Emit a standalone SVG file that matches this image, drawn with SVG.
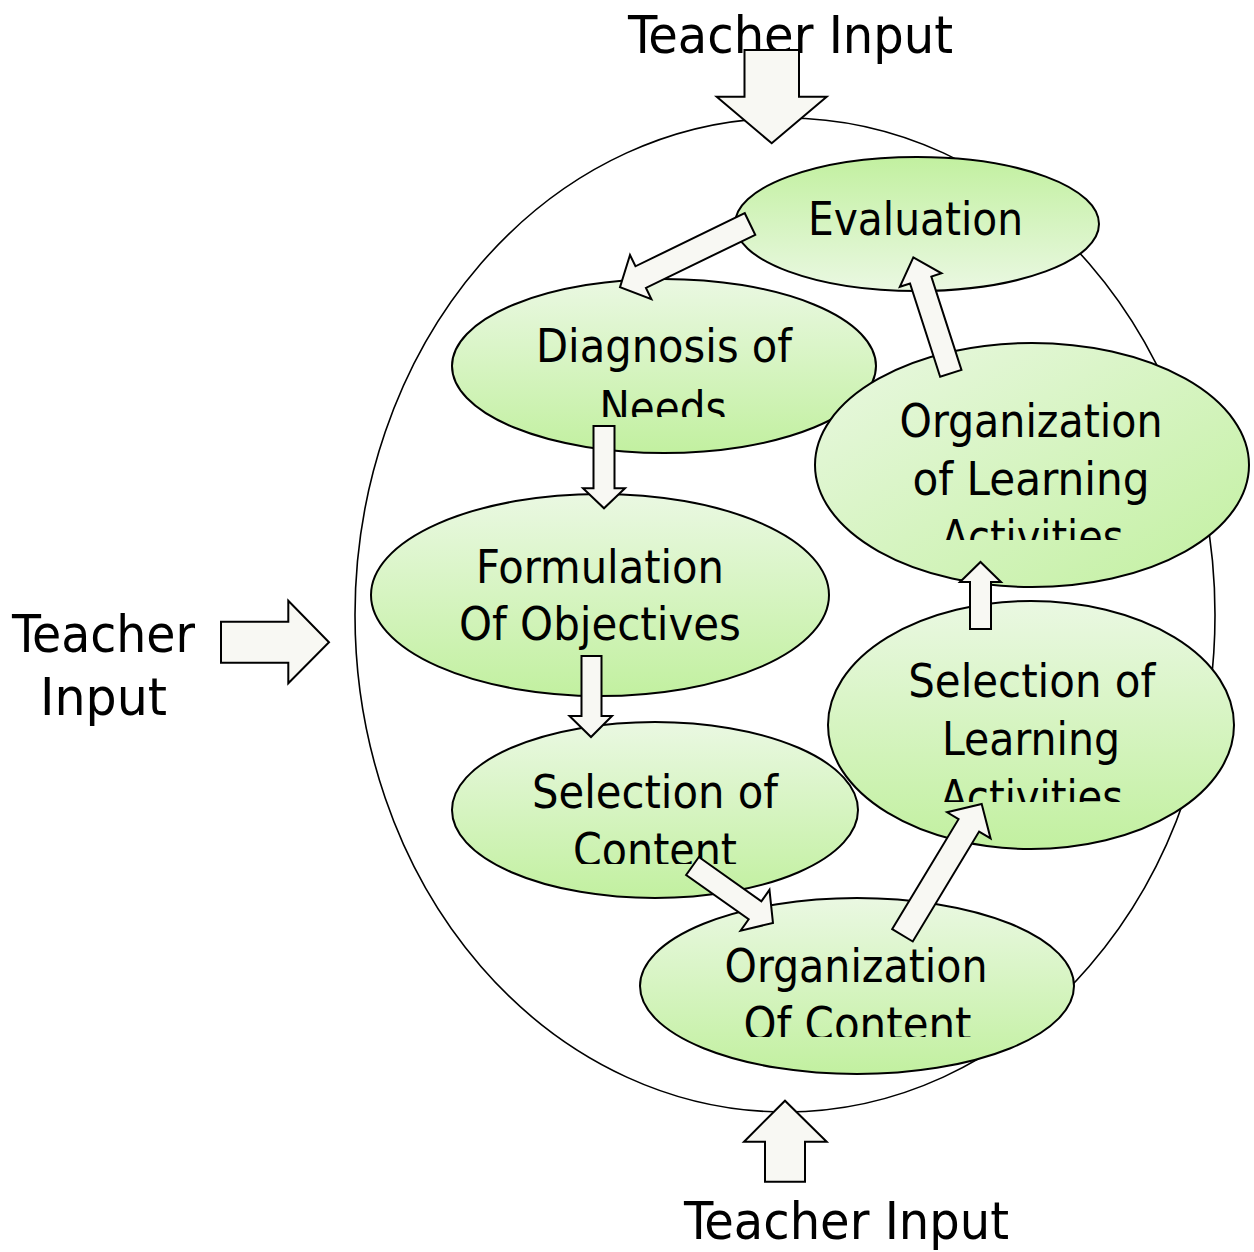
<svg xmlns="http://www.w3.org/2000/svg" width="1254" height="1252" viewBox="0 0 1254 1252">
<style>
.node{stroke:#000;stroke-width:2}
.t{font-family:"DejaVu Sans Condensed","DejaVu Sans",sans-serif;font-size:46px;fill:#000;text-anchor:middle}
.o{font-family:"DejaVu Sans Condensed","DejaVu Sans",sans-serif;font-size:52px;fill:#000;text-anchor:middle}
.arr{fill:#f8f8f3;stroke:#000;stroke-width:2;stroke-linejoin:miter}
</style>
<defs>
<linearGradient id="gv" x1="0" y1="0" x2="0" y2="1"><stop offset="0" stop-color="#eaf8e2"/><stop offset="1" stop-color="#c2f0a0"/></linearGradient>
<linearGradient id="gr" x1="0" y1="0" x2="0" y2="1"><stop offset="0" stop-color="#c2f0a0"/><stop offset="1" stop-color="#eaf8e2"/></linearGradient>
<linearGradient id="gd" x1="0" y1="0" x2="1" y2="1"><stop offset="0" stop-color="#eaf8e2"/><stop offset="1" stop-color="#c2f0a0"/></linearGradient>
<clipPath id="cDiag"><rect x="0" y="0" width="1254" height="417"/></clipPath>
<clipPath id="cOLA"><rect x="0" y="0" width="1254" height="540"/></clipPath>
<clipPath id="cSLA"><rect x="0" y="0" width="1254" height="802"/></clipPath>
<clipPath id="cSC"><rect x="0" y="0" width="1254" height="864"/></clipPath>
<clipPath id="cOC"><rect x="0" y="0" width="1254" height="1037"/></clipPath>
</defs>
<rect width="1254" height="1252" fill="#fff"/>
<g id="cycle"><ellipse cx="785" cy="615" rx="430" ry="497" fill="none" stroke="#000" stroke-width="1.6"/></g>
<g id="input-top">
<text class="o" x="790.5" y="53" textLength="325" lengthAdjust="spacingAndGlyphs">Teacher Input</text>
<polygon class="arr" points="744.5,50 799,50 799,96.7 826.7,96.7 771.7,143.3 716.7,96.7 744.5,96.7"/>
</g>
<g id="input-left">
<text class="o" x="103.5" y="652" textLength="183" lengthAdjust="spacingAndGlyphs">Teacher</text>
<text class="o" x="103.5" y="715" textLength="127" lengthAdjust="spacingAndGlyphs">Input</text>
<polygon class="arr" points="221,621.7 288.3,621.7 288.3,600.7 329,642.3 288.3,683.3 288.3,662.7 221,662.7"/>
</g>
<g id="input-bottom">
<polygon class="arr" points="765,1181.7 765,1141.7 744,1141.7 785,1100.7 826.7,1141.7 805,1141.7 805,1181.7"/>
<text class="o" x="846.5" y="1239" textLength="325" lengthAdjust="spacingAndGlyphs">Teacher Input</text>
</g>
<g id="evaluation">
<ellipse class="node" cx="917" cy="224" rx="182" ry="67" fill="url(#gr)"/>
<text class="t" x="915.5" y="235" textLength="215" lengthAdjust="spacingAndGlyphs">Evaluation</text>
</g>
<g id="diagnosis">
<ellipse class="node" cx="664" cy="366" rx="212" ry="87" fill="url(#gv)"/>
<g clip-path="url(#cDiag)">
<text class="t" x="664" y="361.7" textLength="256" lengthAdjust="spacingAndGlyphs">Diagnosis of</text>
<text class="t" x="663" y="424" textLength="127" lengthAdjust="spacingAndGlyphs">Needs</text>
</g>
</g>
<g id="org-learning">
<ellipse class="node" cx="1032" cy="465" rx="217" ry="122" fill="url(#gd)"/>
<g clip-path="url(#cOLA)">
<text class="t" x="1031" y="436.7" textLength="263" lengthAdjust="spacingAndGlyphs">Organization</text>
<text class="t" x="1031" y="495" textLength="237" lengthAdjust="spacingAndGlyphs">of Learning</text>
<text class="t" x="1032.5" y="553" textLength="182" lengthAdjust="spacingAndGlyphs">Activities</text>
</g>
</g>
<g id="formulation">
<ellipse class="node" cx="600" cy="595" rx="229" ry="101" fill="url(#gv)"/>
<text class="t" x="600" y="583" textLength="248" lengthAdjust="spacingAndGlyphs">Formulation</text>
<text class="t" x="600" y="640" textLength="282" lengthAdjust="spacingAndGlyphs">Of Objectives</text>
</g>
<g id="selection-learning">
<ellipse class="node" cx="1031" cy="725" rx="203" ry="124" fill="url(#gv)"/>
<g clip-path="url(#cSLA)">
<text class="t" x="1031.7" y="696.7" textLength="247" lengthAdjust="spacingAndGlyphs">Selection of</text>
<text class="t" x="1031" y="755" textLength="178" lengthAdjust="spacingAndGlyphs">Learning</text>
<text class="t" x="1031.7" y="813" textLength="183" lengthAdjust="spacingAndGlyphs">Activities</text>
</g>
</g>
<g id="selection-content">
<ellipse class="node" cx="655" cy="810" rx="203" ry="88" fill="url(#gv)"/>
<g clip-path="url(#cSC)">
<text class="t" x="655" y="808" textLength="246" lengthAdjust="spacingAndGlyphs">Selection of</text>
<text class="t" x="655" y="866" textLength="164" lengthAdjust="spacingAndGlyphs">Content</text>
</g>
</g>
<g id="org-content">
<ellipse class="node" cx="857" cy="986" rx="217" ry="88" fill="url(#gv)"/>
<g clip-path="url(#cOC)">
<text class="t" x="856" y="981.7" textLength="263" lengthAdjust="spacingAndGlyphs">Organization</text>
<text class="t" x="857.5" y="1040" textLength="228" lengthAdjust="spacingAndGlyphs">Of Content</text>
</g>
</g>
<g id="connectors">
<polygon class="arr" transform="translate(750,224) rotate(154.1)" points="0,-12 121.5,-12 121.5,-24.5 144.5,0 121.5,24.5 121.5,12 0,12"/>
<polygon class="arr" points="593.5,426 614.5,426 614.5,488.3 625,488.3 604,508.3 583,488.3 593.5,488.3"/>
<polygon class="arr" points="581.5,656 601.5,656 601.5,716 612,716 591,737 569.5,716 581.5,716"/>
<polygon class="arr" transform="translate(692.5,866) rotate(35.3)" points="0,-11 76.6,-11 76.6,-25 98.6,0 76.6,25 76.6,11 0,11"/>
<polygon class="arr" transform="translate(902.5,935.3) rotate(-58.9)" points="0,-12 128.4,-12 128.4,-25.4 153.3,0 128.4,25.4 128.4,12 0,12"/>
<polygon class="arr" points="970,629 970,582 960,582 980.5,562 1001,582 991,582 991,629"/>
<polygon class="arr" transform="translate(950.8,373.3) rotate(-107.9)" points="0,-11.2 98,-11.2 98,-21.9 121.9,0 98,21.9 98,11.2 0,11.2"/>
</g>
</svg>
